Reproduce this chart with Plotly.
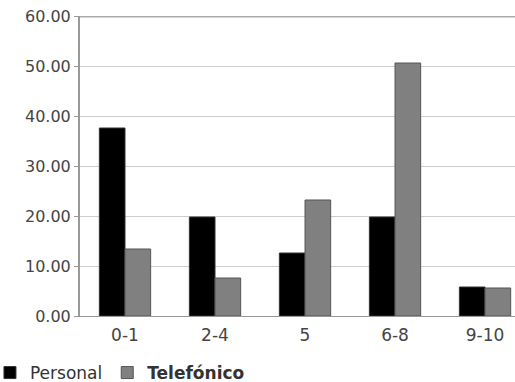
import plotly.graph_objects as go

categories = ["0-1", "2-4", "5", "6-8", "9-10"]
personal = [37.6, 19.8, 12.6, 19.8, 5.8]
telefonico = [13.4, 7.6, 23.2, 50.6, 5.6]
y_ticks = [0, 10, 20, 30, 40, 50, 60]
y_tick_labels = ["0.00", "10.00", "20.00", "30.00", "40.00", "50.00", "60.00"]

fig = go.Figure()
fig.add_trace(go.Bar(
    x=categories, y=personal, name="Personal",
    marker=dict(color="#000000", line=dict(color="#333333", width=1)),
))
fig.add_trace(go.Bar(
    x=categories, y=telefonico, name="<b>Telefónico</b>",
    marker=dict(color="#808080", line=dict(color="#555555", width=1)),
))

fig.update_layout(
    width=515, height=382,
    margin=dict(l=80, r=0, t=16, b=66, autoexpand=False),
    paper_bgcolor="white", plot_bgcolor="white",
    barmode="group", bargap=0.43, bargroupgap=0,
    font=dict(family="DejaVu Sans", size=16, color="#444444"),
    showlegend=True,
    legend=dict(orientation="h", x=-0.207, xanchor="left", y=-0.19, yanchor="middle",
                font=dict(size=17, color="#333333"), itemwidth=30,
                traceorder="normal", bgcolor="rgba(0,0,0,0)"),
    xaxis=dict(
        range=[-0.5, 4.333], showgrid=False, showline=True, linecolor="#999999",
        linewidth=1, ticks="", tickfont=dict(size=17, color="#444444"),
        ticklabelstandoff=4,
        fixedrange=True, automargin=False,
    ),
    yaxis=dict(
        range=[0, 60], tickvals=y_ticks, ticktext=y_tick_labels,
        showgrid=True, gridcolor="#cccccc", gridwidth=1,
        showline=True, linecolor="#999999", linewidth=2, mirror=False,
        ticks="outside", ticklen=4, tickcolor="#999999",
        tickfont=dict(size=16, color="#444444"), zeroline=False,
        automargin=False, fixedrange=True,
    ),
)
fig.add_hline(y=60, line=dict(color="#aaaaaa", width=3))

fig.write_html(
    "out.html",
    config={"displayModeBar": False},
    post_script="document.body.style.margin='0';document.body.style.overflow='hidden';",
)
